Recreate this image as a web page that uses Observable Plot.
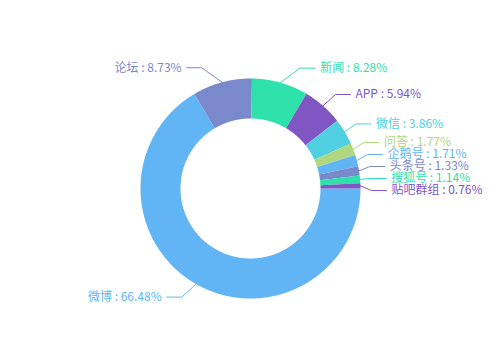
<!DOCTYPE html>
<html>
<head>
<meta charset="utf-8">
<script src="https://cdn.jsdelivr.net/npm/d3@7"></script>
<script src="https://cdn.jsdelivr.net/npm/@observablehq/plot@0.6"></script>
<style>
html, body { margin: 0; padding: 0; background: #fff; }
#chart { width: 503px; height: 356px; }
</style>
</head>
<body>
<div id="chart"></div>
<script>
// ---- data ----
const names = ["微博", "论坛", "新闻", "APP", "微信", "问答", "企鹅号", "头条号", "搜狐号", "贴吧群组"];
const values = [66.48, 8.73, 8.28, 5.94, 3.86, 1.77, 1.71, 1.33, 1.14, 0.76];
const palette = ["#62b5f5", "#7a88cc", "#2ee0a9", "#7f56c2", "#4fcfe0", "#b0d680"];

// ---- layout ----
const W = 503, H = 356, CX = 250, CY = 188;
const R = 110, R0 = 70;
const startDeg = 90;          // first slice starts at 3 o'clock, clockwise
const labelR = 125;           // natural label radius
const rA = 121, rB = 132;     // ellipse on which label elbows are aligned
const len2 = 15, textGap = 5, lineGap = 12;
const FONT = "'Microsoft YaHei','Noto Sans CJK SC','Noto Sans',sans-serif";

const total = d3.sum(values);
let acc = 0;
const slices = names.map((name, i) => {
  const a0 = startDeg + acc / total * 360;
  acc += values[i];
  const a1 = startDeg + acc / total * 360;
  return {name, value: values[i], color: palette[i % palette.length], a0, a1, mid: (a0 + a1) / 2};
});

const rad = d => d * Math.PI / 180;
const px = (deg, r) => r * Math.sin(rad(deg));
const py = (deg, r) => -r * Math.cos(rad(deg));

// ring polygons
const ring = [];
for (const s of slices) {
  const n = Math.max(2, Math.ceil((s.a1 - s.a0) / 0.5));
  for (let k = 0; k <= n; k++) {
    const a = s.a0 + (s.a1 - s.a0) * k / n;
    ring.push({name: s.name, color: s.color, x: px(a, R), y: py(a, R)});
  }
  for (let k = n; k >= 0; k--) {
    const a = s.a0 + (s.a1 - s.a0) * k / n;
    ring.push({name: s.name, color: s.color, x: px(a, R0), y: py(a, R0)});
  }
}

// labels
const labels = slices.map(s => ({
  ...s,
  side: Math.sin(rad(s.mid)) >= 0 ? 1 : -1,
  y0: py(s.mid, labelR),
  label: `${s.name} : ${s.value.toFixed(2)}%`
}));

function spread(items) {
  items.sort((a, b) => a.y0 - b.y0);
  let clusters = items.map(d => ({items: [d], y: d.y0}));
  let changed = true;
  while (changed) {
    changed = false;
    for (let i = 0; i < clusters.length - 1; i++) {
      const a = clusters[i], b = clusters[i + 1];
      const aBottom = a.y + (a.items.length - 1) * lineGap / 2;
      const bTop = b.y - (b.items.length - 1) * lineGap / 2;
      if (bTop - aBottom < lineGap) {
        const its = [...a.items, ...b.items];
        clusters.splice(i, 2, {items: its, y: d3.mean(its, d => d.y0)});
        changed = true;
        break;
      }
    }
  }
  clusters.forEach(c => c.items.forEach((d, k) => d.y = c.y + (k - (c.items.length - 1) / 2) * lineGap));
}
spread(labels.filter(d => d.side > 0));
spread(labels.filter(d => d.side < 0));

const lines = [];
for (const d of labels) {
  d.ex = d.side * rA * Math.sqrt(Math.max(0, 1 - d.y * d.y / (rB * rB)));
  d.hx = d.ex + d.side * len2;
  d.tx = d.hx + d.side * textGap;
  lines.push({name: d.name, color: d.color, x: px(d.mid, R), y: py(d.mid, R)});
  lines.push({name: d.name, color: d.color, x: d.ex, y: d.y});
  lines.push({name: d.name, color: d.color, x: d.hx, y: d.y});
}

const chart = Plot.plot({
  width: W,
  height: H,
  margin: 0,
  x: {domain: [-CX, W - CX], range: [0, W], axis: null},
  y: {domain: [-CY, H - CY], range: [0, H], axis: null},
  color: {type: "identity"},
  style: {background: "#fff", fontFamily: FONT},
  marks: [
    Plot.line(ring, {x: "x", y: "y", z: "name", fill: "color", stroke: "none", curve: "linear-closed"}),
    Plot.line(lines, {x: "x", y: "y", z: "name", stroke: "color", strokeWidth: 1, fill: "none"}),
    Plot.text(labels.filter(d => d.side > 0), {x: "tx", y: "y", text: "label", fill: "color", textAnchor: "start", fontSize: 12, fontFamily: FONT}),
    Plot.text(labels.filter(d => d.side < 0), {x: "tx", y: "y", text: "label", fill: "color", textAnchor: "end", fontSize: 12, fontFamily: FONT})
  ]
});
document.getElementById("chart").appendChild(chart);
</script>
</body>
</html>
